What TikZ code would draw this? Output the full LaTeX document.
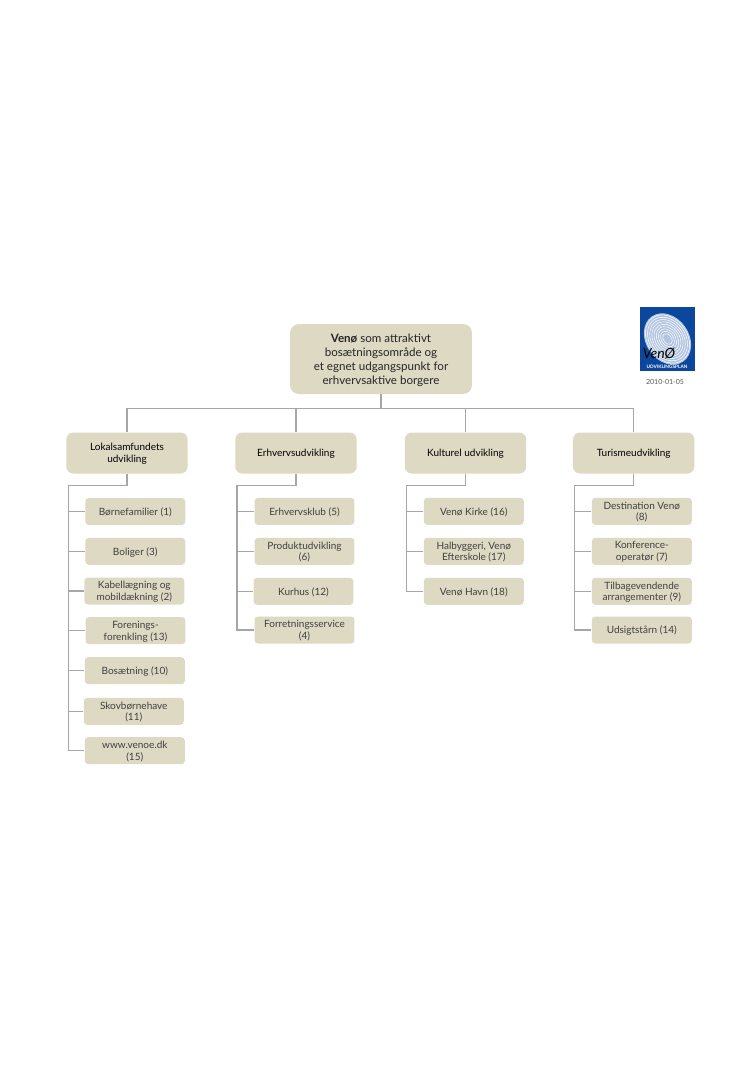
\documentclass[tikz,border=0pt]{standalone}
\usepackage{fontspec}
\setmainfont{Lato}
\usepackage{xcolor}
\usetikzlibrary{positioning}
\definecolor{boxtan}{HTML}{DDD9C3}
\definecolor{linegray}{HTML}{A6A6A6}
\definecolor{logoblue}{HTML}{0B479D}

\begin{document}
\begin{tikzpicture}[
  x=0.02cm, y=-0.02cm,
  topbox/.style={fill=boxtan, rounded corners=0.18cm, minimum width=3.64cm, minimum height=1.4cm,
    align=center, inner sep=0pt, text depth=-0.5pt, font=\fontsize{6.6}{8}\selectfont, text=black!85},
  head/.style={fill=boxtan, rounded corners=0.14cm, minimum width=2.43cm, minimum height=0.82cm,
    align=center, inner sep=0pt, text depth=-0.5pt, font=\fontsize{5.7}{6.7}\selectfont, text=black},
  sub/.style={fill=boxtan, rounded corners=0.07cm, minimum width=2cm, minimum height=0.54cm,
    align=center, inner sep=0pt, text depth=0pt, font=\fontsize{5.7}{6.8}\selectfont, text=black!75},
  link/.style={draw=linegray, line width=0.65pt},
  ring/.style={draw=white, line width=0.3pt},
]
\useasboundingbox (0,0) rectangle (750,1083);

%% Top box
\node[topbox] (top) at (381,359) {{\bfseries Venø} som attraktivt\\bosætningsområde og\\et egnet udgangspunkt for\\erhvervsaktive borgere};

%% Headers
\node[head] (lokal) at (127,453)   {Lokalsamfundets\\udvikling};
\node[head] (erhv)  at (296,453)   {Erhvervsudvikling};
\node[head] (kult)  at (465.5,453) {Kulturel udvikling};
\node[head] (tur)   at (633.7,453) {Turismeudvikling};

%% Lokalsamfund
\node[sub] (boern) at (135.3,511.5) {Børnefamilier (1)};
\node[sub] (bolig) at (135.3,551.3) {Boliger (3)};
\node[sub] (kabel) at (134.3,591)   {Kabellægning og\\mobildækning (2)};
\node[sub] (foren) at (135.5,630.7) {Forenings-\\forenkling (13)};
\node[sub] (bos)   at (134.8,670.7) {Bosætning (10)};
\node[sub] (skov)  at (133.8,711.3) {Skovbørnehave\\(11)};
\node[sub] (www)   at (134.8,750.7) {www.venoe.dk\\(15)};

%% Erhverv
\node[sub] (klub)  at (304.5,511.3) {Erhvervsklub (5)};
\node[sub] (prod)  at (304.5,551.3) {Produktudvikling\\(6)};
\node[sub] (kurs)  at (303.5,591.3) {Kurhus (12)};
\node[sub] (forr)  at (304.5,630)   {Forretningsservice\\(4)};

%% Kultur
\node[sub] (kirke) at (473.8,511.3) {Venø Kirke (16)};
\node[sub] (hal)   at (473.8,551.3) {Halbyggeri, Venø\\Efterskole (17)};
\node[sub] (havn)  at (473.8,591.3) {Venø Havn (18)};

%% Turisme
\node[sub] (dest)  at (641.8,511.3) {Destination Venø\\(8)};
\node[sub] (konf)  at (641.8,551.3) {Konference-\\operatør (7)};
\node[sub] (tilb)  at (641.8,591.3) {Tilbagevendende\\arrangementer (9)};
\node[sub] (udsi)  at (641.8,630)   {Udsigtstårn (14)};

%% Bus under the top box
\coordinate (bus) at (381,408.7);
\draw[link] (top.south) -- (bus);
\draw[link] (lokal.north) |- (bus);
\draw[link] (erhv.north) |- (bus);
\draw[link] (kult.north) |- (bus);
\draw[link] (tur.north) |- (bus);

%% Trunks
\coordinate (lokaltrunk) at (68.3,485.3);
\coordinate (erhvtrunk)  at (237,485.3);
\coordinate (kulttrunk)  at (406.3,485.3);
\coordinate (turtrunk)   at (574.7,485.3);
\draw[link] (lokal.south) |- (lokaltrunk);
\draw[link] (erhv.south) |- (erhvtrunk);
\draw[link] (kult.south) |- (kulttrunk);
\draw[link] (tur.south) |- (turtrunk);

\draw[link] (lokaltrunk) |- (boern.west);
\draw[link] (lokaltrunk) |- (bolig.west);
\draw[link] (lokaltrunk) |- (kabel.west);
\draw[link] (lokaltrunk) |- (foren.west);
\draw[link] (lokaltrunk) |- (bos.west);
\draw[link] (lokaltrunk) |- (skov.west);
\draw[link] (lokaltrunk) |- (www.west);

\draw[link] (erhvtrunk) |- (klub.west);
\draw[link] (erhvtrunk) |- (prod.west);
\draw[link] (erhvtrunk) |- (kurs.west);
\draw[link] (erhvtrunk) |- (forr.west);

\draw[link] (kulttrunk) |- (kirke.west);
\draw[link] (kulttrunk) |- (hal.west);
\draw[link] (kulttrunk) |- (havn.west);

\draw[link] (turtrunk) |- (dest.west);
\draw[link] (turtrunk) |- (konf.west);
\draw[link] (turtrunk) |- (tilb.west);
\draw[link] (turtrunk) |- (udsi.west);

%% Logo
\fill[logoblue] (639.5,306.5) rectangle (695,371);
\fill[white!68!logoblue, rotate around={-55:(667.5,339)}] (667.5,339) ellipse (0.55cm and 0.43cm);
\draw[ring, rotate around={-55:(667.5,339)}] (667.5,339) ellipse (0.52cm and 0.4cm);
\draw[ring, rotate around={-55:(667.5,339)}] (667.5,339) ellipse (0.47cm and 0.36cm);
\draw[ring, rotate around={-55:(667.5,339)}] (667.5,339) ellipse (0.42cm and 0.32cm);
\draw[ring, rotate around={-55:(667.5,339)}] (667.5,339) ellipse (0.37cm and 0.28cm);
\draw[ring, rotate around={-55:(667.5,339)}] (667.5,339) ellipse (0.32cm and 0.24cm);
\draw[ring, rotate around={-55:(667.5,339)}] (667.5,339) ellipse (0.27cm and 0.2cm);
\draw[ring, rotate around={-55:(667.5,339)}] (667.5,339) ellipse (0.22cm and 0.16cm);
\draw[ring, rotate around={-55:(667.5,339)}] (667.5,339) ellipse (0.17cm and 0.12cm);
\draw[ring, rotate around={-55:(667.5,339)}] (667.5,339) ellipse (0.12cm and 0.08cm);
\node[inner sep=0pt, font=\fontsize{8}{8}\selectfont\itshape, text=black] (logoname) at (659,354) {VenØ};
\node[inner sep=0pt, font=\fontsize{2.7}{3}\selectfont\bfseries, text=white] (logoplan) at (667,366.5) {UDVIKLINGSPLAN};

%% Date
\node[inner sep=0pt, font=\fontsize{4}{5}\selectfont, text=black!65] (date) at (665,382.3) {2010-01-05};

\end{tikzpicture}
\end{document}
